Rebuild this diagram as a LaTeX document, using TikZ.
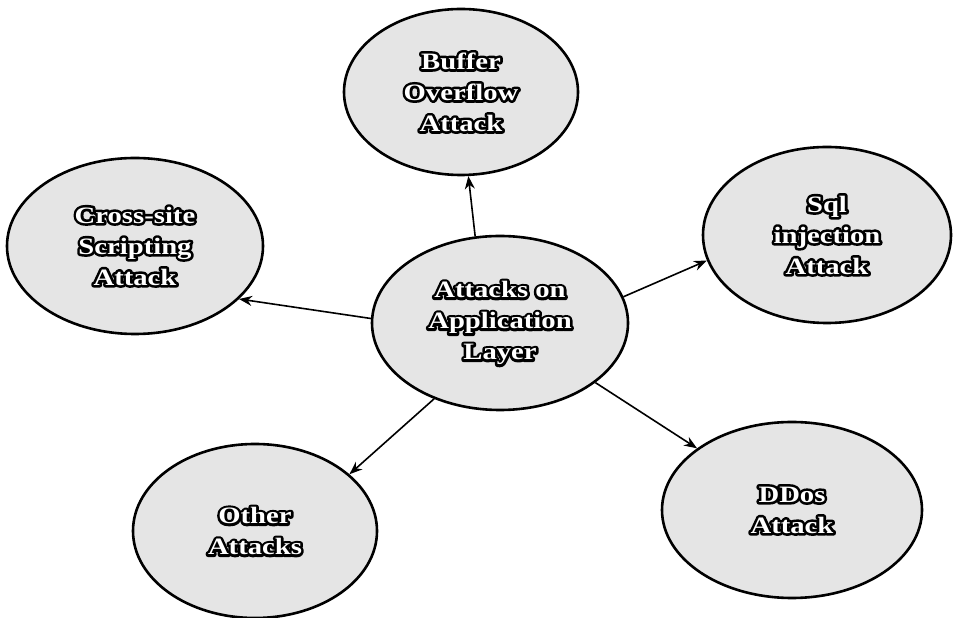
\documentclass[tikz,border=0pt]{standalone}
\usepackage{fontspec}
\usetikzlibrary{shapes.geometric,arrows.meta}
\setmainfont{Liberation Serif}[FakeStretch=1.22]
% white letters with a black outline: a wide stroked copy under the filled one
\newcommand\olt[1]{\leavevmode\rlap{\special{pdf:literal direct 1 Tr 5.2 w 1 j 0 0 0 RG}#1\special{pdf:literal direct 0 Tr}}#1}
\begin{document}
\begin{tikzpicture}[x=1pt,y=1pt,
  topic/.style={ellipse, draw=black, line width=2.6pt, fill=black!10,
    inner sep=0pt, text=white, align=center,
    font=\bfseries\fontsize{23.5}{31}\selectfont},
  link/.style={draw=black, line width=1.6pt, -{Stealth[length=13pt,width=10pt]}}]
\useasboundingbox (0,0) rectangle (953,618);
\node[topic, minimum width=256pt, minimum height=174pt] (core) at (500,295)
  {\olt{Attacks on}\\\olt{Application}\\\olt{Layer}};
\node[topic, minimum width=234pt, minimum height=166pt] (buf) at (461,526)
  {\olt{Buffer}\\\olt{Overflow}\\\olt{Attack}};
\node[topic, minimum width=256pt, minimum height=176pt] (xss) at (135,372)
  {\olt{Cross-site}\\\olt{Scripting}\\\olt{Attack}};
\node[topic, minimum width=248pt, minimum height=176pt] (sql) at (827,383)
  {\olt{Sql}\\\olt{injection}\\\olt{Attack}};
\node[topic, minimum width=244pt, minimum height=174pt] (other) at (255,87)
  {\olt{Other}\\\olt{Attacks}};
\node[topic, minimum width=260pt, minimum height=176pt] (ddos) at (792,108)
  {\olt{DDos}\\\olt{Attack}};
\draw[link] (core.106) -- (buf.275);
\draw[link] (core.178) -- (xss.333);
\draw[link] (core.12) -- (sql.192);
\draw[link] (core.229) -- (other.31);
\draw[link] (core.328) -- (ddos.147);
\end{tikzpicture}
\end{document}
